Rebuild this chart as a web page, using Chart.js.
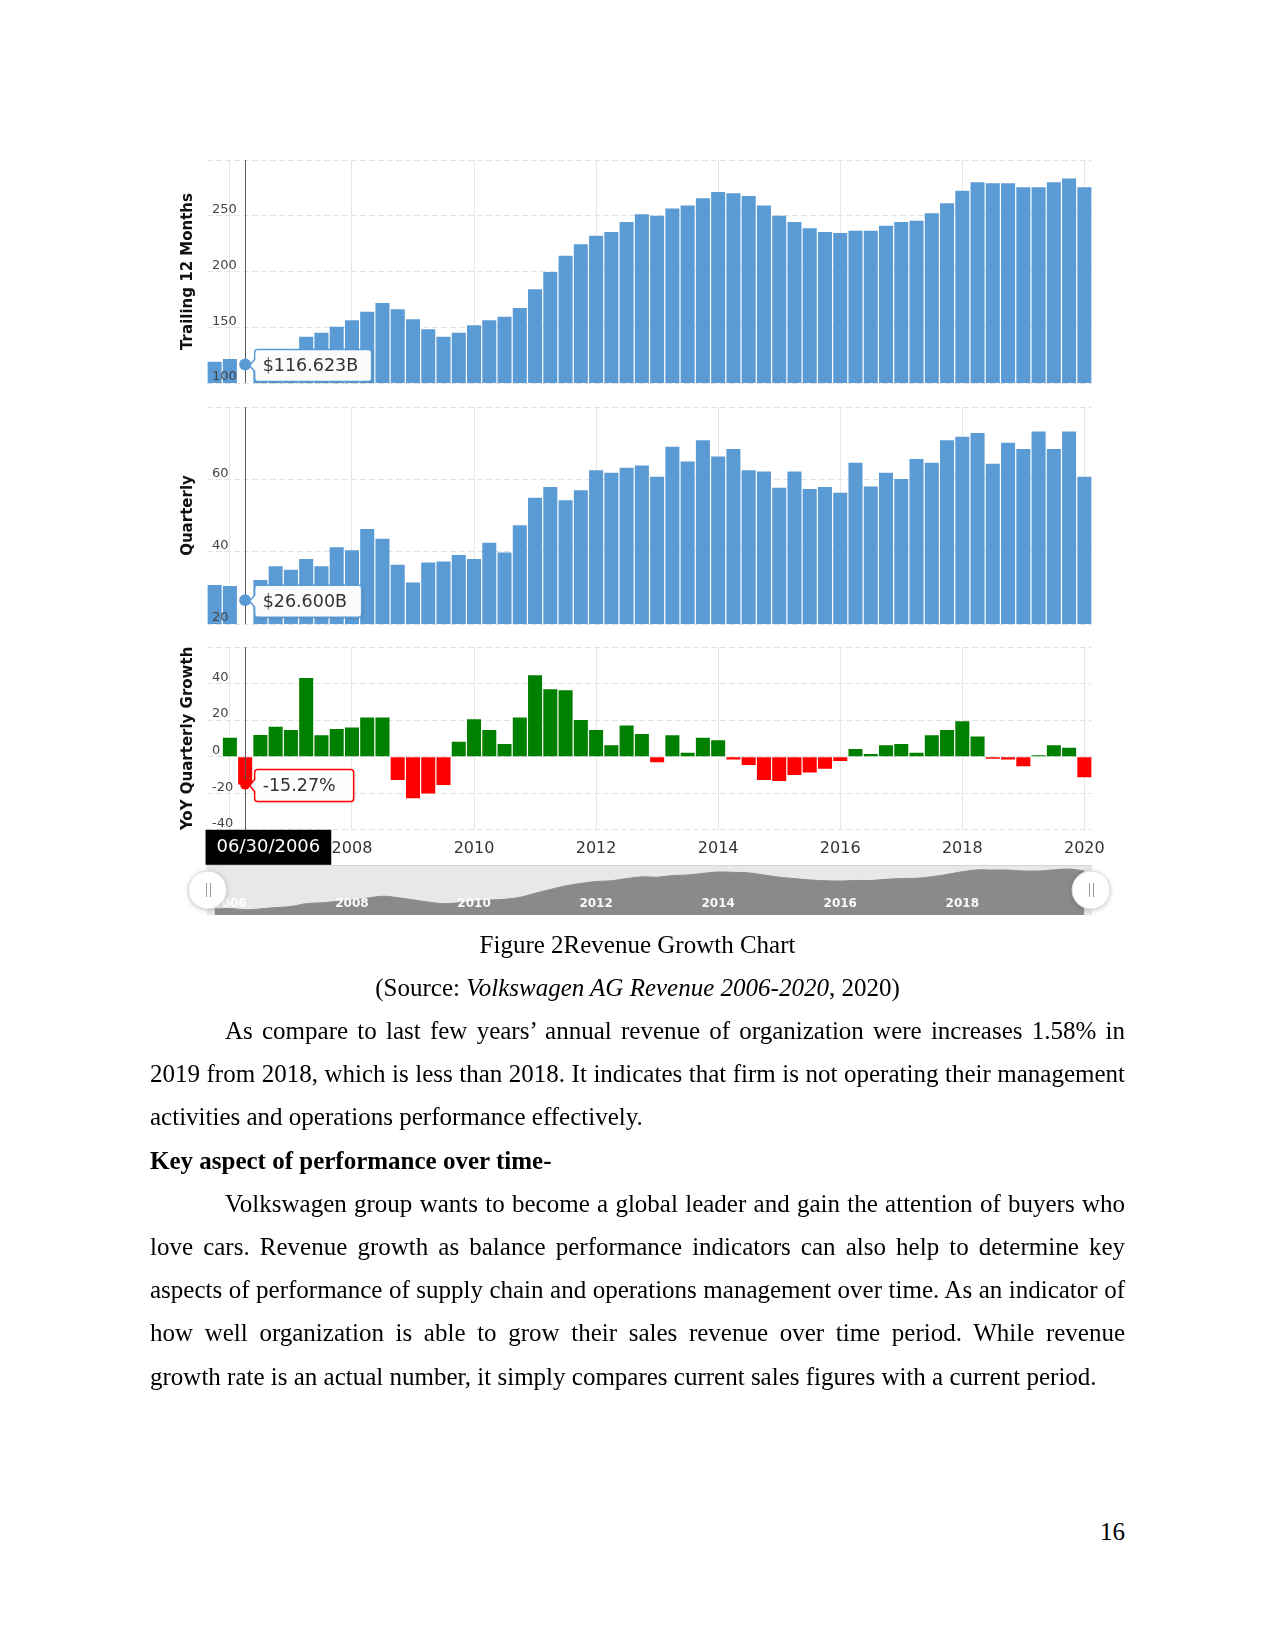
<!DOCTYPE html>
<html>
<head>
<meta charset="utf-8">
<title>Revenue Growth Chart</title>
<script src="https://cdn.jsdelivr.net/npm/chart.js"></script>
<style>
  html, body { margin: 0; padding: 0; background: #fff; }
  #page { position: relative; width: 1275px; height: 1651px; overflow: hidden; background: #fff; }
  canvas { position: absolute; left: 160px; }
  .txt { position: absolute; left: 150px; width: 975px; font-family: "Liberation Serif", "Times New Roman", serif; font-size: 25px; line-height: 43.2px; color: #000; }
  .txt div { white-space: nowrap; }
  .c { text-align: center; }
  .ind { text-indent: 75px; }
  .pg { position: absolute; left: 150px; width: 975px; top: 1510px; text-align: right; font-family: "Liberation Serif", serif; font-size: 25px; line-height: 43.2px; }
</style>
</head>
<body>
<div id="page">
  <canvas id="ttmChart" width="960" height="251" style="top:146px"></canvas>
  <canvas id="qChart" width="960" height="245" style="top:393px"></canvas>
  <canvas id="yoyChart" width="960" height="236" style="top:633px"></canvas>
  <canvas id="navChart" width="960" height="66" style="top:857px"></canvas>

  <div class="txt" style="top:922.5px">
    <div class="c">Figure 2Revenue Growth Chart</div>
    <div class="c">(Source: <i>Volkswagen AG Revenue 2006-2020</i>, 2020)</div>
    <div class="j ind"><span>As compare to last few years’ annual revenue of organization were increases 1.58% in</span></div>
    <div class="j"><span>2019 from 2018, which is less than 2018. It indicates that firm is not operating their management</span></div>
    <div>activities and operations performance effectively.</div>
    <div><b>Key aspect of performance over time-</b></div>
    <div class="j ind"><span>Volkswagen group wants to become a global leader and gain the attention of buyers who</span></div>
    <div class="j"><span>love cars. Revenue growth as balance performance indicators can also help to determine key</span></div>
    <div class="j"><span>aspects of performance of supply chain and operations management over time. As an indicator of</span></div>
    <div class="j"><span>how well organization is able to grow their sales revenue over time period. While revenue</span></div>
    <div>growth rate is an actual number, it simply compares current sales figures with a current period.</div>
  </div>
  <div class="pg">16</div>
</div>

<script>
// quarter-end dates, one bar per quarter
const quarters = [
  "12/31/2005",
  "03/31/2006", "06/30/2006", "09/30/2006", "12/31/2006",
  "03/31/2007", "06/30/2007", "09/30/2007", "12/31/2007",
  "03/31/2008", "06/30/2008", "09/30/2008", "12/31/2008",
  "03/31/2009", "06/30/2009", "09/30/2009", "12/31/2009",
  "03/31/2010", "06/30/2010", "09/30/2010", "12/31/2010",
  "03/31/2011", "06/30/2011", "09/30/2011", "12/31/2011",
  "03/31/2012", "06/30/2012", "09/30/2012", "12/31/2012",
  "03/31/2013", "06/30/2013", "09/30/2013", "12/31/2013",
  "03/31/2014", "06/30/2014", "09/30/2014", "12/31/2014",
  "03/31/2015", "06/30/2015", "09/30/2015", "12/31/2015",
  "03/31/2016", "06/30/2016", "09/30/2016", "12/31/2016",
  "03/31/2017", "06/30/2017", "09/30/2017", "12/31/2017",
  "03/31/2018", "06/30/2018", "09/30/2018", "12/31/2018",
  "03/31/2019", "06/30/2019", "09/30/2019", "12/31/2019",
  "03/31/2020"
];

const yearTicks = ["2006", "2008", "2010", "2012", "2014", "2016", "2018", "2020"];

// revenue, billions USD
const ttmRevenue = [
  119.1, 121.5, 116.623, 120.1, 125.3, 129.8, 141.5, 145.1, 150.5, 156.2,
  164.0, 171.8, 166.1, 157.1, 148.1, 141.5, 145.1, 151.7, 156.2, 159.5,
  167.3, 184.0, 199.6, 214.2, 224.4, 232.1, 235.4, 244.4, 251.3, 250.1,
  256.6, 259.1, 265.6, 271.3, 270.1, 267.7, 259.1, 250.1, 244.4, 238.7,
  235.4, 234.5, 236.6, 236.6, 241.1, 244.4, 245.6, 252.2, 261.2, 272.5,
  280.0, 279.1, 279.1, 275.5, 275.5, 280.0, 283.3, 275.5
];

const quarterlyRevenue = [
  30.8, 30.5, 26.6, 32.2, 36.0, 35.0, 38.0, 36.0, 41.2, 40.4,
  46.3, 43.6, 36.4, 31.5, 37.0, 37.3, 39.1, 38.0, 42.5, 39.8,
  47.3, 54.9, 57.9, 54.2, 57.0, 62.5, 61.8, 63.2, 63.8, 60.7,
  69.0, 64.9, 70.8, 66.3, 68.4, 62.5, 62.2, 57.7, 62.2, 57.3,
  57.9, 56.3, 64.6, 58.0, 61.8, 60.1, 65.6, 64.6, 70.8, 71.8,
  72.8, 64.3, 70.1, 68.4, 73.2, 68.4, 73.2, 60.7
];

// YoY quarterly growth, percent
const yoyGrowth = [
  null, 10.4, -15.27, 11.9, 16.4, 14.6, 43.1, 11.7, 15.2, 15.9,
  21.4, 21.4, -12.8, -22.8, -20.1, -15.5, 8.2, 20.5, 14.6, 7.0,
  21.4, 44.6, 36.9, 36.4, 20.1, 14.6, 6.2, 17.0, 12.4, -3.1,
  11.7, 2.2, 10.4, 9.0, -1.6, -4.5, -12.8, -13.3, -10.0, -8.6,
  -6.6, -2.4, 4.2, 1.5, 6.2, 7.0, 2.2, 11.7, 14.6, 19.4,
  11.0, -1.1, -1.6, -5.3, 0.8, 6.2, 4.9, -11.3
];

const hoverIndex = 2;  // the quarter under the crosshair

const BLUE = "#5b9bd5";
const GREEN = "#008000";
const RED = "#ff0000";

Chart.defaults.font.family = "'DejaVu Sans', Verdana, sans-serif";

function isYearTick(i) {
  const q = quarters[i];
  return q.startsWith("03/31/") && yearTicks.includes(q.slice(6));
}

function xAxis(showLabels) {
  return {
    type: "category",
    offset: true,
    grid: {
      offset: false,
      drawTicks: false,
      color: c => isYearTick(c.index) ? "#e6e6e6" : "rgba(0,0,0,0)"
    },
    border: { display: false },
    ticks: {
      display: showLabels,
      autoSkip: false,
      maxRotation: 0,
      minRotation: 0,
      padding: 9,
      color: "#333",
      font: { size: 16 },
      callback: (v, i) => isYearTick(i) ? quarters[i].slice(6) : ""
    }
  };
}

function yAxis(min, max, step, title) {
  return {
    min: min,
    max: max,
    ticks: {
      stepSize: step,
      mirror: true,
      padding: 5,
      labelOffset: -6,
      z: 1,
      color: "#444",
      font: { size: 13 },
      callback: v => v === max ? "" : v
    },
    grid: { color: "#e2e2e2", drawTicks: false },
    border: { display: false, dash: [6, 3] },
    title: {
      display: true,
      text: title,
      color: "#111",
      font: { size: 15, weight: "bold" },
      padding: { top: 19, bottom: 0 }
    },
    afterFit: s => { s.width = 47; }
  };
}

function callout(ctx, x, y, w, h, r, tipX, tipY) {
  ctx.beginPath();
  ctx.moveTo(x + r, y);
  ctx.lineTo(x + w - r, y);
  ctx.arcTo(x + w, y, x + w, y + r, r);
  ctx.lineTo(x + w, y + h - r);
  ctx.arcTo(x + w, y + h, x + w - r, y + h, r);
  ctx.lineTo(x + r, y + h);
  ctx.arcTo(x, y + h, x, y + h - r, r);
  ctx.lineTo(x, tipY + 6);
  ctx.lineTo(tipX, tipY);
  ctx.lineTo(x, tipY - 6);
  ctx.lineTo(x, y + r);
  ctx.arcTo(x, y, x + r, y, r);
  ctx.closePath();
}

// crosshair, marker and tooltip box of the hovered quarter
const hoverLayer = {
  id: "hoverLayer",
  afterDatasetsDraw(chart) {
    const { ctx, chartArea: a } = chart;
    const px = Math.round(chart.scales.x.getPixelForValue(hoverIndex)) + 0.5;
    ctx.save();
    ctx.strokeStyle = "#5a5a5a";
    ctx.lineWidth = 1;
    ctx.beginPath();
    ctx.moveTo(px, a.top);
    ctx.lineTo(px, a.bottom);
    ctx.stroke();
    ctx.restore();
  },
  afterDraw(chart, args, opt) {
    const { ctx, chartArea: a } = chart;
    const value = chart.data.datasets[0].data[hoverIndex];
    const px = chart.scales.x.getPixelForValue(hoverIndex);
    const py = chart.scales.y.getPixelForValue(value);
    ctx.save();
    ctx.fillStyle = opt.color;
    ctx.beginPath();
    ctx.arc(px, py, opt.markerSize, 0, Math.PI * 2);
    ctx.fill();

    const bh = 32;
    const bx = px + 9.5;
    const by = py + 1 - bh / 2;
    ctx.shadowColor = "rgba(0,0,0,0.18)";
    ctx.shadowBlur = 3;
    ctx.shadowOffsetX = 1;
    ctx.shadowOffsetY = 1;
    callout(ctx, bx, by, opt.boxWidth, bh, 3, px + 4.5, py + 1);
    ctx.fillStyle = "rgba(255,255,255,0.97)";
    ctx.fill();
    ctx.shadowColor = "rgba(0,0,0,0)";
    ctx.strokeStyle = opt.color;
    ctx.lineWidth = 1.5;
    ctx.stroke();
    ctx.fillStyle = "#333";
    ctx.font = "17.5px 'DejaVu Sans'";
    ctx.textAlign = "left";
    ctx.textBaseline = "middle";
    ctx.fillText(opt.prefix + value.toFixed(opt.digits) + opt.suffix, bx + 8, by + bh / 2 + 1);

    if (opt.dateBox) {
      const dx = px - 39.6;
      ctx.fillStyle = "#000";
      ctx.fillRect(dx, a.bottom, 125.7, 35);
      ctx.fillStyle = "#fff";
      ctx.font = "18px 'DejaVu Sans'";
      ctx.textAlign = "center";
      ctx.fillText(quarters[hoverIndex], dx + 62.85, a.bottom + 18);
    }
    ctx.restore();
  }
};

function drawHandle(ctx, x, y) {
  ctx.save();
  ctx.shadowColor = "rgba(0,0,0,0.25)";
  ctx.shadowBlur = 5;
  ctx.shadowOffsetY = 1;
  ctx.fillStyle = "#fff";
  ctx.beginPath();
  ctx.arc(x, y, 19, 0, Math.PI * 2);
  ctx.fill();
  ctx.shadowColor = "rgba(0,0,0,0)";
  ctx.strokeStyle = "#dcdcdc";
  ctx.lineWidth = 1;
  ctx.stroke();
  ctx.strokeStyle = "#9a9a9a";
  ctx.beginPath();
  ctx.moveTo(Math.round(x) - 1.5, y - 7);
  ctx.lineTo(Math.round(x) - 1.5, y + 7);
  ctx.moveTo(Math.round(x) + 2.5, y - 7);
  ctx.lineTo(Math.round(x) + 2.5, y + 7);
  ctx.stroke();
  ctx.restore();
}

// range navigator: gray band, year labels and the two handles
const navLayer = {
  id: "navLayer",
  beforeDatasetsDraw(chart) {
    const { ctx, chartArea: a } = chart;
    ctx.save();
    ctx.fillStyle = "#e8e8e8";
    ctx.fillRect(a.left, a.top, a.right - a.left, a.bottom - a.top);
    ctx.fillStyle = "#d4d4d4";
    ctx.fillRect(a.left, a.top, a.right - a.left, 1);
    ctx.restore();
  },
  afterDraw(chart) {
    const { ctx, chartArea: a } = chart;
    const x = chart.scales.x;
    ctx.save();
    ctx.font = "bold 12px 'DejaVu Sans'";
    ctx.fillStyle = "rgba(255,255,255,0.95)";
    ctx.textAlign = "center";
    ctx.textBaseline = "middle";
    quarters.forEach((q, i) => {
      const px = x.getPixelForValue(i);
      // labels that would sit under the right handle are not drawn
      if (isYearTick(i) && px < a.right - 25) ctx.fillText(q.slice(6), px, a.top + 38.5);
    });
    ctx.restore();
    drawHandle(ctx, a.left + 0.5, (a.top + a.bottom) / 2);
    drawHandle(ctx, a.right - 1, (a.top + a.bottom) / 2);
  }
};

const base = {
  responsive: false,
  maintainAspectRatio: false,
  animation: false,
  events: [],
  plugins: { legend: { display: false }, tooltip: { enabled: false } }
};

function barOptions(yScale, hover, bottomPad, showX) {
  return Object.assign({}, base, {
    layout: { padding: { left: 0, right: 28, top: 14, bottom: bottomPad } },
    scales: { x: xAxis(showX), y: yScale },
    plugins: Object.assign({}, base.plugins, { hoverLayer: hover })
  });
}

// move/resize so the plot area lands where the picture has it
function settle(chart, top, bottom) {
  const a = chart.chartArea;
  const diff = (bottom - top) - (a.bottom - a.top);
  if (Math.abs(diff) > 0.25) chart.resize(chart.width, Math.round(chart.height + diff));
  chart.canvas.style.top = Math.round(top - chart.chartArea.top) + "px";
}

const ttmChart = new Chart(document.getElementById("ttmChart"), {
  type: "bar",
  data: {
    labels: quarters,
    datasets: [{
      data: ttmRevenue,
      backgroundColor: c => c.dataIndex === hoverIndex ? "rgba(0,0,0,0)" : BLUE,
      borderWidth: 0,
      categoryPercentage: 1,
      barPercentage: 0.92
    }]
  },
  options: barOptions(yAxis(100, 300, 50, "Trailing 12 Months"),
    { color: BLUE, markerSize: 6, boxWidth: 117, prefix: "$", digits: 3, suffix: "B", dateBox: false }, 14, false),
  plugins: [hoverLayer]
});
settle(ttmChart, 160, 383);

const qChart = new Chart(document.getElementById("qChart"), {
  type: "bar",
  data: {
    labels: quarters,
    datasets: [{
      data: quarterlyRevenue,
      backgroundColor: c => c.dataIndex === hoverIndex ? "rgba(0,0,0,0)" : BLUE,
      borderWidth: 0,
      categoryPercentage: 1,
      barPercentage: 0.92
    }]
  },
  options: barOptions(yAxis(20, 80, 20, "Quarterly"),
    { color: BLUE, markerSize: 6, boxWidth: 107, prefix: "$", digits: 3, suffix: "B", dateBox: false }, 14, false),
  plugins: [hoverLayer]
});
settle(qChart, 406.5, 623.5);

const yoyChart = new Chart(document.getElementById("yoyChart"), {
  type: "bar",
  data: {
    labels: quarters,
    datasets: [{
      data: yoyGrowth,
      backgroundColor: c => c.raw < 0 ? RED : GREEN,
      borderWidth: 0,
      categoryPercentage: 1,
      barPercentage: 0.92
    }]
  },
  options: barOptions(yAxis(-40, 60, 20, "YoY Quarterly Growth"),
    { color: RED, markerSize: 5, boxWidth: 99, prefix: "", digits: 2, suffix: "%", dateBox: true }, 2, true),
  plugins: [hoverLayer]
});
settle(yoyChart, 647, 829.5);

const navChart = new Chart(document.getElementById("navChart"), {
  type: "line",
  data: {
    labels: quarters,
    datasets: [{
      data: ttmRevenue,
      fill: "start",
      backgroundColor: "#8a8a8a",
      borderColor: "#8a8a8a",
      borderWidth: 1,
      pointRadius: 0,
      tension: 0.4
    }]
  },
  options: Object.assign({}, base, {
    layout: { padding: { left: 47, right: 28, top: 8, bottom: 8 } },
    scales: {
      x: { type: "category", offset: true, display: false },
      y: { min: 95, max: 300, display: false }
    }
  }),
  plugins: [navLayer]
});
settle(navChart, 865, 915);

// justify the full text lines
document.querySelectorAll(".j").forEach(line => {
  const span = line.firstElementChild;
  const indent = parseFloat(getComputedStyle(line).textIndent) || 0;
  const gaps = span.textContent.split(" ").length - 1;
  const room = line.clientWidth - indent - span.getBoundingClientRect().width;
  span.style.wordSpacing = (room / gaps) + "px";
});
</script>
</body>
</html>
